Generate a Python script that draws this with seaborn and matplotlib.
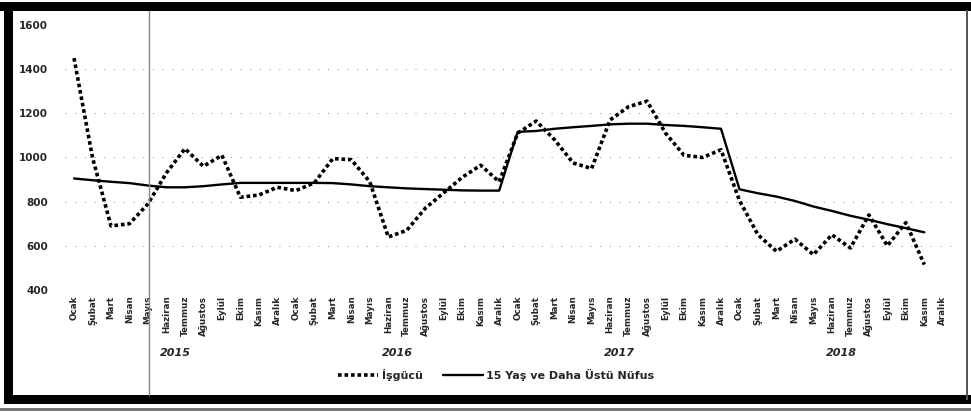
import pandas as pd
import numpy as np
import matplotlib.pyplot as plt
import seaborn as sns
from matplotlib.patches import Rectangle
from matplotlib.lines import Line2D

# -------------------------------
# Data
# -------------------------------

months = ["Ocak", "Şubat", "Mart", "Nisan", "Mayıs", "Haziran",
          "Temmuz", "Ağustos", "Eylül", "Ekim", "Kasım", "Aralık"]
years = ["2015", "2016", "2017", "2018"]

# Ocak 2015 - Kasım 2018
isgucu = [1450, 1000, 690, 700, 790, 930, 1040, 960, 1010, 820, 830, 865,
          850, 885, 995, 990, 890, 640, 670, 770, 840, 910, 965, 890,
          1110, 1165, 1080, 975, 950, 1170, 1230, 1255, 1110, 1010, 1000, 1035,
          805, 650, 575, 630, 560, 650, 590, 740, 600, 705, 515]

nufus = [905, 897, 890, 884, 873, 865, 865, 870, 878, 885, 885, 885,
         885, 885, 884, 878, 870, 865, 860, 857, 854, 851, 850, 850,
         1116, 1120, 1130, 1137, 1143, 1150, 1153, 1153, 1147, 1143, 1137, 1130,
         856, 838, 823, 803, 778, 758, 736, 718, 698, 680, 661]

tick_labels = months * len(years)

df = pd.DataFrame({
    "idx": np.arange(len(isgucu)),
    "İşgücü": isgucu,
    "15 Yaş ve Daha Üstü Nüfus": nufus,
})

# -------------------------------
# Plot
# -------------------------------

sns.set_style("white")
plt.rcParams["font.family"] = ["DejaVu Sans"]

fig = plt.figure(figsize=(9.71, 4.19), dpi=100)
ax = fig.add_axes([0.0667, 0.3079, 0.9138, 0.6325])

for y in [600, 800, 1000, 1200, 1400]:
    ax.axhline(y, color="#888888", lw=0.7, ls=(0, (1, 9)), zorder=0)

sns.lineplot(data=df, x="idx", y="İşgücü", ax=ax, color="black",
             lw=2.6, ls=(0, (1, 0.8)), label="İşgücü")
sns.lineplot(data=df, x="idx", y="15 Yaş ve Daha Üstü Nüfus", ax=ax,
             color="black", lw=1.7, label="15 Yaş ve Daha Üstü Nüfus")

ax.set_xlim(-0.5, len(tick_labels) - 0.5)
ax.set_ylim(400, 1600)
ax.set_yticks([400, 600, 800, 1000, 1200, 1400, 1600])
ax.set_yticklabels([str(v) for v in [400, 600, 800, 1000, 1200, 1400, 1600]],
                   fontsize=7.5, fontweight="bold")
ax.set_xticks(range(len(tick_labels)))
ax.set_xticklabels(tick_labels, rotation=90, fontsize=6.3, fontweight="bold")
ax.tick_params(axis="both", length=0, pad=4)
ax.tick_params(axis="y", pad=12)
ax.set_xlabel("")
ax.set_ylabel("")
sns.despine(ax=ax, left=True, bottom=True)

# year labels under months
for i, yr in enumerate(years):
    ax.text(i * 12 + 5.5, -0.238, yr, transform=ax.get_xaxis_transform(),
            ha="center", va="center", fontsize=8, fontweight="bold",
            style="italic")

ax.get_legend().remove()
handles, labels = ax.get_legend_handles_labels()
fig.legend(handles, labels, loc="center", bbox_to_anchor=(0.511, 0.105),
           ncol=2, frameon=False, handlelength=3.6, columnspacing=1.8,
           handletextpad=0.3, prop={"size": 8, "weight": "bold"})

# -------------------------------
# Scan frame
# -------------------------------

W, H = 971, 419

def rect(x0, y0, x1, y1, color="black"):
    fig.add_artist(Rectangle((x0 / W, 1 - y1 / H), (x1 - x0) / W,
                             (y1 - y0) / H, transform=fig.transFigure,
                             color=color, lw=0))

rect(0, 2, 971, 11)
rect(4, 2, 13, 402)
rect(4, 395, 971, 404)
rect(966, 10, 968, 400, color="#555555")
rect(0, 408, 971, 411, color="#777777")

fig.add_artist(Line2D([149 / W, 149 / W], [1 - 395 / H, 1 - 11 / H],
                      transform=fig.transFigure, color="#888888", lw=1))

plt.savefig("out.png", dpi=100)
